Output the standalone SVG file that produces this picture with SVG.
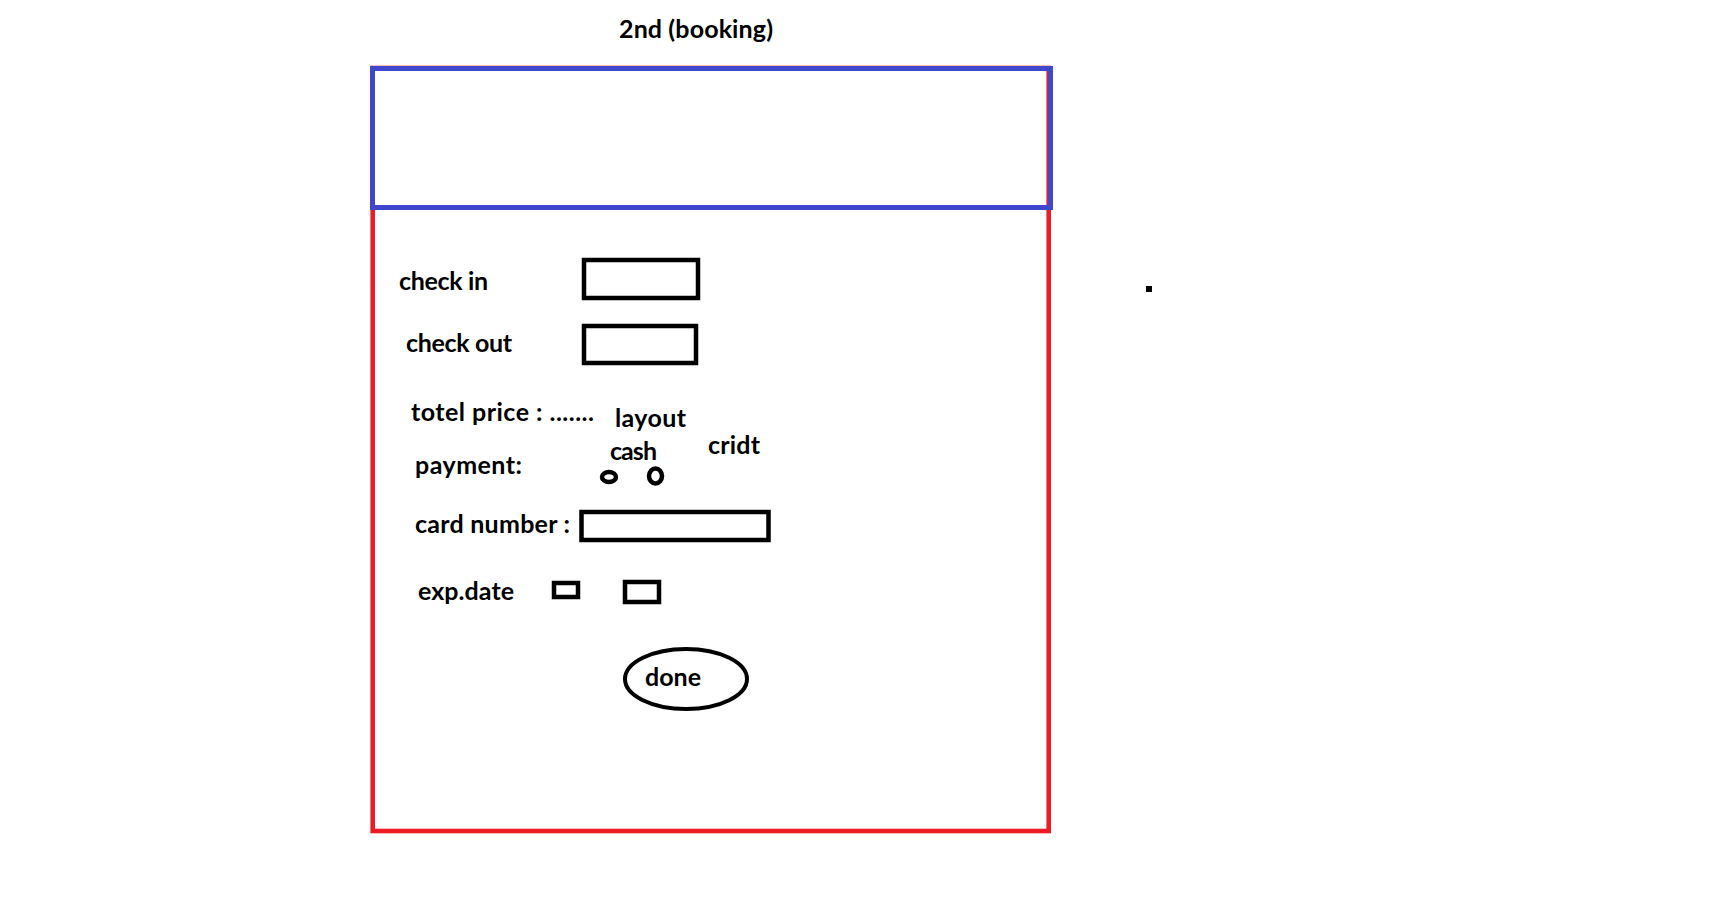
<svg xmlns="http://www.w3.org/2000/svg" width="1729" height="924" viewBox="0 0 1729 924">
<style>
.t{font-family:Lato,"Liberation Sans",sans-serif;font-weight:bold;font-size:25px;fill:#000}
.box{fill:none;stroke:#000;stroke-width:4.5}
</style>
<rect width="1729" height="924" fill="#fff"/>
<g id="title"><text class="t" x="619" y="38" textLength="154" lengthAdjust="spacing">2nd (booking)</text></g>
<g id="frame"><rect x="372.7" y="68" width="676" height="763" fill="none" stroke="#ed1c24" stroke-width="4.6"/></g>
<g id="header"><rect x="372.5" y="68.5" width="678" height="139" fill="none" stroke="#3f48cc" stroke-width="5"/></g>
<g id="checkin"><text class="t" x="399" y="290" textLength="89" lengthAdjust="spacing">check in</text><rect class="box" x="584" y="260" width="114" height="38"/></g>
<g id="checkout"><text class="t" x="406" y="352" textLength="106" lengthAdjust="spacing">check out</text><rect class="box" x="584" y="326" width="112" height="37"/></g>
<g id="price"><text class="t" x="411" y="421" textLength="183" lengthAdjust="spacing">totel price : .......</text></g>
<g id="layout"><text class="t" x="615" y="427" textLength="71" lengthAdjust="spacing">layout</text></g>
<g id="payment"><text class="t" x="415" y="474" textLength="107" lengthAdjust="spacing">payment:</text>
<text class="t" x="610" y="460" textLength="47" lengthAdjust="spacing">cash</text><text class="t" x="708" y="454" textLength="52" lengthAdjust="spacing">cridt</text>
<ellipse class="box" cx="609" cy="477" rx="7" ry="5"/><ellipse class="box" cx="655.5" cy="476" rx="6.5" ry="7.5"/></g>
<g id="card"><text class="t" x="415" y="533" textLength="155" lengthAdjust="spacing">card number :</text><rect class="box" x="581.5" y="512" width="187" height="28"/></g>
<g id="exp"><text class="t" x="418" y="600" textLength="96" lengthAdjust="spacing">exp.date</text><rect class="box" x="554" y="583" width="24" height="14"/><rect class="box" x="625" y="582" width="34" height="20"/></g>
<g id="done"><ellipse cx="686" cy="679" rx="61" ry="30" fill="none" stroke="#000" stroke-width="4"/><text class="t" x="645" y="686" textLength="56" lengthAdjust="spacing">done</text></g>
<g id="dot"><rect x="1146" y="286" width="6" height="6" fill="#000"/></g>
<g id="connectors"/>
</svg>
